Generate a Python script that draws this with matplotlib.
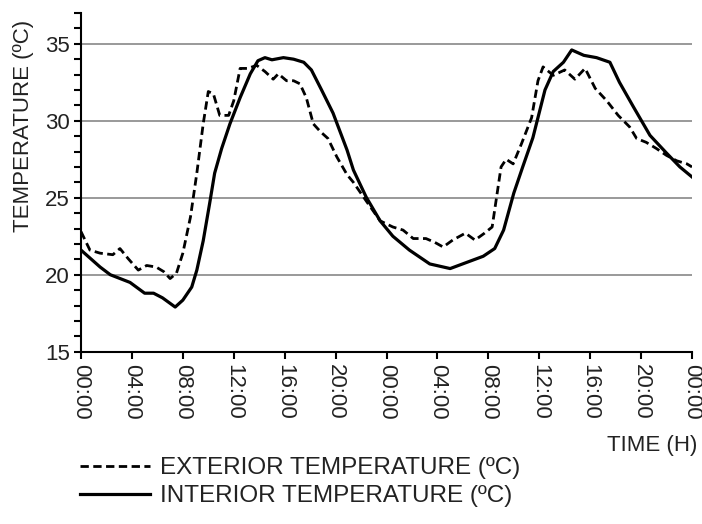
import matplotlib as mpl
import matplotlib.pyplot as plt
from matplotlib.lines import Line2D
from matplotlib.ticker import FuncFormatter, MultipleLocator


# hours since the first midnight
EXT_HOURS = [0, 0.7, 1.5, 2.5, 3.06, 3.7, 4.5, 5.16, 5.9, 6.5, 7.0, 7.5, 8.0, 8.6,
             9.1, 9.6, 10.0, 10.4, 10.9, 11.6, 12.0, 12.5, 13.1, 13.8, 14.45, 15.1,
             15.5, 16.15, 16.7, 17.2, 17.7, 18.25, 18.8, 19.4, 20.1, 20.9, 21.4,
             22.4, 23.5, 24.5, 25.3, 26.1, 27.1, 27.8, 28.45, 29.2, 30.2, 30.95,
             31.7, 32.3, 32.65, 33.0, 33.4, 33.95, 34.6, 35.4, 35.9, 36.3, 37.1,
             38.0, 38.8, 39.6, 40.4, 41.3, 42.2, 43.1, 43.65, 44.4, 45.2, 46.0,
             46.8, 47.6, 48.0]
EXT_TEMP = [22.8, 21.6, 21.4, 21.3, 21.7, 21.05, 20.3, 20.6, 20.5, 20.2, 19.75, 20.1,
            21.4, 23.75, 26.6, 29.8, 31.9, 31.75, 30.35, 30.35, 31.3, 33.4, 33.4,
            33.6, 33.2, 32.7, 33.05, 32.6, 32.6, 32.4, 31.5, 29.8, 29.3, 28.85,
            27.65, 26.5, 26.0, 24.8, 23.5, 23.1, 22.9, 22.35, 22.35, 22.1, 21.8,
            22.25, 22.7, 22.25, 22.7, 23.1, 25.05, 27.0, 27.5, 27.2, 28.5, 30.2,
            32.6, 33.5, 32.95, 33.3, 32.7, 33.4, 32.1, 31.3, 30.35, 29.6, 28.85,
            28.6, 28.2, 27.75, 27.4, 27.2, 27.0]

INT_HOURS = [0, 1.5, 2.3, 3.85, 5.0, 5.7, 6.4, 7.4, 8.0, 8.7, 9.1, 9.6, 10.1, 10.5,
             11.05, 11.7, 12.5, 13.3, 13.9, 14.45, 15.0, 15.9, 16.7, 17.5, 18.1,
             18.9, 19.8, 20.9, 21.4, 22.4, 23.5, 24.5, 25.8, 27.4, 29.0, 30.3, 31.6,
             32.5, 33.2, 34.0, 34.7, 35.5, 36.45, 37.1, 37.9, 38.55, 39.5, 40.5,
             41.55, 42.3, 43.4, 44.7, 46.0, 47.05, 48.0]
INT_TEMP = [21.6, 20.5, 20.0, 19.5, 18.8, 18.8, 18.5, 17.9, 18.35, 19.2, 20.3, 22.2,
            24.6, 26.6, 28.2, 29.8, 31.5, 33.05, 33.9, 34.1, 33.96, 34.1, 34.0, 33.8,
            33.3, 32.0, 30.5, 28.1, 26.8, 25.05, 23.5, 22.5, 21.6, 20.7, 20.4, 20.8,
            21.2, 21.7, 22.9, 25.3, 27.0, 28.9, 32.0, 33.2, 33.8, 34.6, 34.25, 34.1,
            33.8, 32.5, 30.9, 29.05, 27.9, 27.0, 26.35]

EXT_LABEL = "EXTERIOR TEMPERATURE (ºC)"
INT_LABEL = "INTERIOR TEMPERATURE (ºC)"


def main() -> None:
    mpl.rcParams.update(
        {
            "font.family": ["Liberation Sans", "DejaVu Sans"],
            "font.size": 16,
            "text.color": "#222222",
            "xtick.color": "black",
            "ytick.color": "black",
            "xtick.labelcolor": "#222222",
            "ytick.labelcolor": "#222222",
            "axes.spines.top": False,
            "axes.spines.right": False,
            "axes.linewidth": 1.5,
        }
    )

    fig = plt.figure(figsize=(7.02, 5.24), dpi=100)
    ax = fig.add_axes([81 / 702, 1 - 351.7 / 524, 611 / 702, 338.7 / 524])

    ax.plot(EXT_HOURS, EXT_TEMP, color="black", linewidth=2.0,
            dashes=(3, 1.6), zorder=3)
    ax.plot(INT_HOURS, INT_TEMP, color="black", linewidth=2.3, zorder=3)

    ax.set_xlim(0, 48)
    ax.set_ylim(15, 37)
    ax.xaxis.set_major_locator(MultipleLocator(4))
    ax.xaxis.set_major_formatter(
        FuncFormatter(lambda value, _: f"{int(round(value)) % 24:02d}:00")
    )
    ax.yaxis.set_major_locator(MultipleLocator(5))
    ax.yaxis.set_minor_locator(MultipleLocator(1))
    ax.tick_params(axis="x", which="major", length=5, width=1.5, pad=4,
                   labelrotation=270)
    ax.tick_params(axis="y", which="both", length=5, width=1.5, pad=3)
    ax.set_yticks([15, 20, 25, 30, 35])
    for label in ax.get_xticklabels():
        label.set_rotation(270)
        label.set_va("top")
        label.set_ha("center")

    ax.grid(True, axis="y", which="major", color="#888888", linewidth=1.2)
    ax.set_axisbelow(True)

    fig.text(24 / 702, 1 - 126 / 524, "TEMPERATURE (ºC)", rotation=90,
             ha="center", va="center", fontsize=16)
    fig.text(697 / 702, 1 - 445 / 524, "TIME (H)", ha="right", va="center",
             fontsize=16)

    handles = [
        Line2D([], [], color="black", linewidth=2.0, dashes=(3, 1.6)),
        Line2D([], [], color="black", linewidth=2.3),
    ]
    fig.legend(
        handles,
        [EXT_LABEL, INT_LABEL],
        loc="upper left",
        bbox_to_anchor=(80 / 702, 1 - 457 / 524),
        frameon=False,
        fontsize=17.5,
        handlelength=2.9,
        handletextpad=0.4,
        labelspacing=0.25,
        borderpad=0,
        borderaxespad=0,
    )

    fig.savefig("out.png", dpi=100)
    plt.close(fig)


if __name__ == "__main__":
    main()
